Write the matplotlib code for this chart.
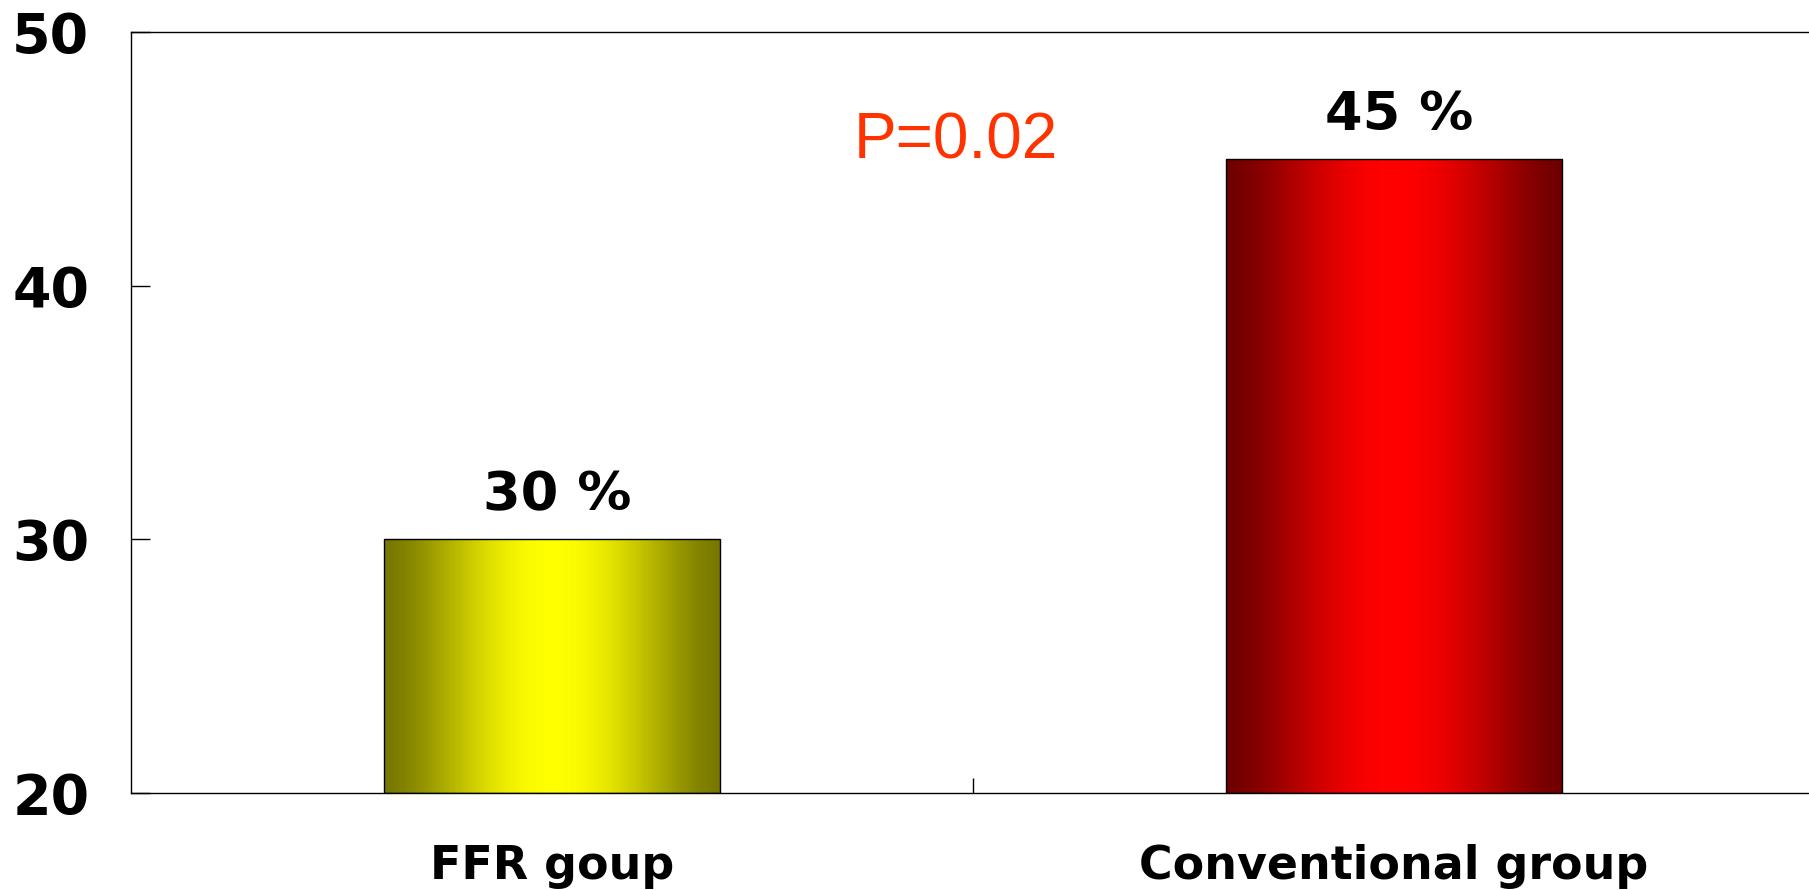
import numpy as np
import matplotlib.pyplot as plt
from matplotlib.colors import LinearSegmentedColormap

## Data
groups = ["FFR goup", "Conventional group"]
rates = [30, 45]
bar_labels = ["30 %", "45 %"]
p_text = "P=0.02"

# edge / centre colours of the shaded bars
edge_cols = ["#787800", "#700000"]
mid_cols = ["#ffff00", "#ff0000"]

yticks = [20, 30, 40, 50]

fig = plt.figure(figsize=(18.09, 8.90), dpi=100)
ax = fig.add_axes([131/1809, 97/890, (1815-131)/1809, (793-32)/890])

ax.set_xlim(-0.5, 1.5)
ax.set_ylim(20, 50)

x = np.arange(len(groups))
bars = ax.bar(x, np.array(rates) - 20, bottom=20, width=0.4,
              facecolor="none", edgecolor="black", linewidth=1, zorder=3)

## shade each bar dark -> bright -> dark, left to right (cylinder look)
t = np.linspace(0, 1, 256)
grad = (np.sin(np.pi * t) ** 1.5).reshape(1, -1)
for b, c0, c1 in zip(bars, edge_cols, mid_cols):
    cmap = LinearSegmentedColormap.from_list("shade", [c0, c1])
    x0, y0 = b.get_x(), b.get_y()
    im = ax.imshow(grad, cmap=cmap, aspect="auto", zorder=2, vmin=0, vmax=1,
                   extent=[x0, x0 + b.get_width(), y0, y0 + b.get_height()])
    im.set_clip_path(b)

## value labels above bars
for xi, v, lab in zip(x, rates, bar_labels):
    ax.annotate(lab, (xi, v), xytext=(4, 21), textcoords="offset points",
                ha="center", va="baseline", fontsize=39, fontweight="bold")

ax.text(0.48, 45, p_text, ha="center", va="baseline", fontsize=46,
        color="#ff3300", family="Liberation Sans")

## axes styling
for s in ["top", "left", "bottom"]:
    ax.spines[s].set_linewidth(1)
ax.spines["right"].set_visible(False)

ax.set_yticks(yticks)
ax.set_yticklabels([str(t) for t in yticks], fontsize=40, fontweight="bold")
ax.tick_params(axis="y", direction="in", length=14, width=1, pad=30)

ax.set_xticks(x)
ax.set_xticklabels(groups, fontsize=33, fontweight="bold")
ax.tick_params(axis="x", which="major", length=0, pad=37)
ax.set_xticks([0.5], minor=True)
ax.tick_params(axis="x", which="minor", direction="in", length=11, width=1)

fig.savefig("out.png", dpi=100)
